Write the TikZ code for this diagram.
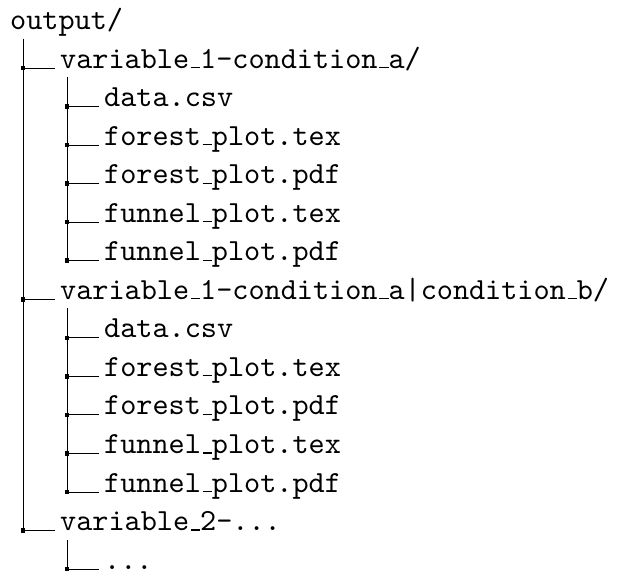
\documentclass[tikz,border=0pt]{standalone}
\newcommand\usc{\leavevmode\kern.06em\vbox{\hrule height 1.2pt width.3em}}
\font\treefont="[lmmono10-regular]" at 30.7pt
\tikzset{
  entry/.style={anchor=base west, inner sep=0pt, font=\treefont},
  treeline/.style={line width=1pt, black},
  junct/.style={fill=black, draw=none, rectangle, minimum size=4.5pt, inner sep=0pt}
}
\begin{document}
\begin{tikzpicture}[x=1pt,y=-1pt]
\useasboundingbox (0,0) rectangle (621,571);
% level 0
\node[entry] (t0) at (10,29.5) {output/};
\coordinate (v0) at (23,38.5);
% level 1 rows: 1, 7, 13 ; level 2 rows: 2-6, 8-12, 14
\node[entry] (t1) at (60,68.0) {variable\usc 1-condition\usc a/};
\node[entry] (t2) at (104,106.6) {data.csv};
\node[entry] (t3) at (104,145.1) {forest\usc plot.tex};
\node[entry] (t4) at (104,183.7) {forest\usc plot.pdf};
\node[entry] (t5) at (104,222.2) {funnel\usc plot.tex};
\node[entry] (t6) at (104,260.7) {funnel\usc plot.pdf};
\node[entry] (t7) at (60,299.3) {variable\usc 1-condition\usc a|condition\usc b/};
\node[entry] (t8) at (104,337.8) {data.csv};
\node[entry] (t9) at (104,376.4) {forest\usc plot.tex};
\node[entry] (t10) at (104,414.9) {forest\usc plot.pdf};
\node[entry] (t11) at (104,453.5) {funnel\usc plot.tex};
\node[entry] (t12) at (104,492.0) {funnel\usc plot.pdf};
\node[entry] (t13) at (60,530.5) {variable\usc 2-...};
\node[entry] (t14) at (104,569.0) {...};
% junction coordinates
\foreach \i/\y in {1/68.0,7/299.3,13/530.5}{
  \coordinate (j\i) at (23,\y);
  \coordinate (h\i) at (55,\y);
  \coordinate (v\i) at (67,\y+9);
}
\foreach \i/\y in {2/106.6,3/145.1,4/183.7,5/222.2,6/260.7,8/337.8,9/376.4,10/414.9,11/453.5,12/492.0,14/569.0}{
  \coordinate (j\i) at (67,\y);
  \coordinate (h\i) at (99,\y);
}
% vertical lines
\draw[treeline] (v0) -- (j13);
\draw[treeline] (v1) -- (j6);
\draw[treeline] (v7) -- (j12);
\draw[treeline] (v13) -- (j14);
% horizontal lines and junction squares
\foreach \i in {1,...,14}{
  \draw[treeline] (j\i) -- (h\i);
  \node[junct] (d\i) at (j\i) {};
}
\end{tikzpicture}
\end{document}
